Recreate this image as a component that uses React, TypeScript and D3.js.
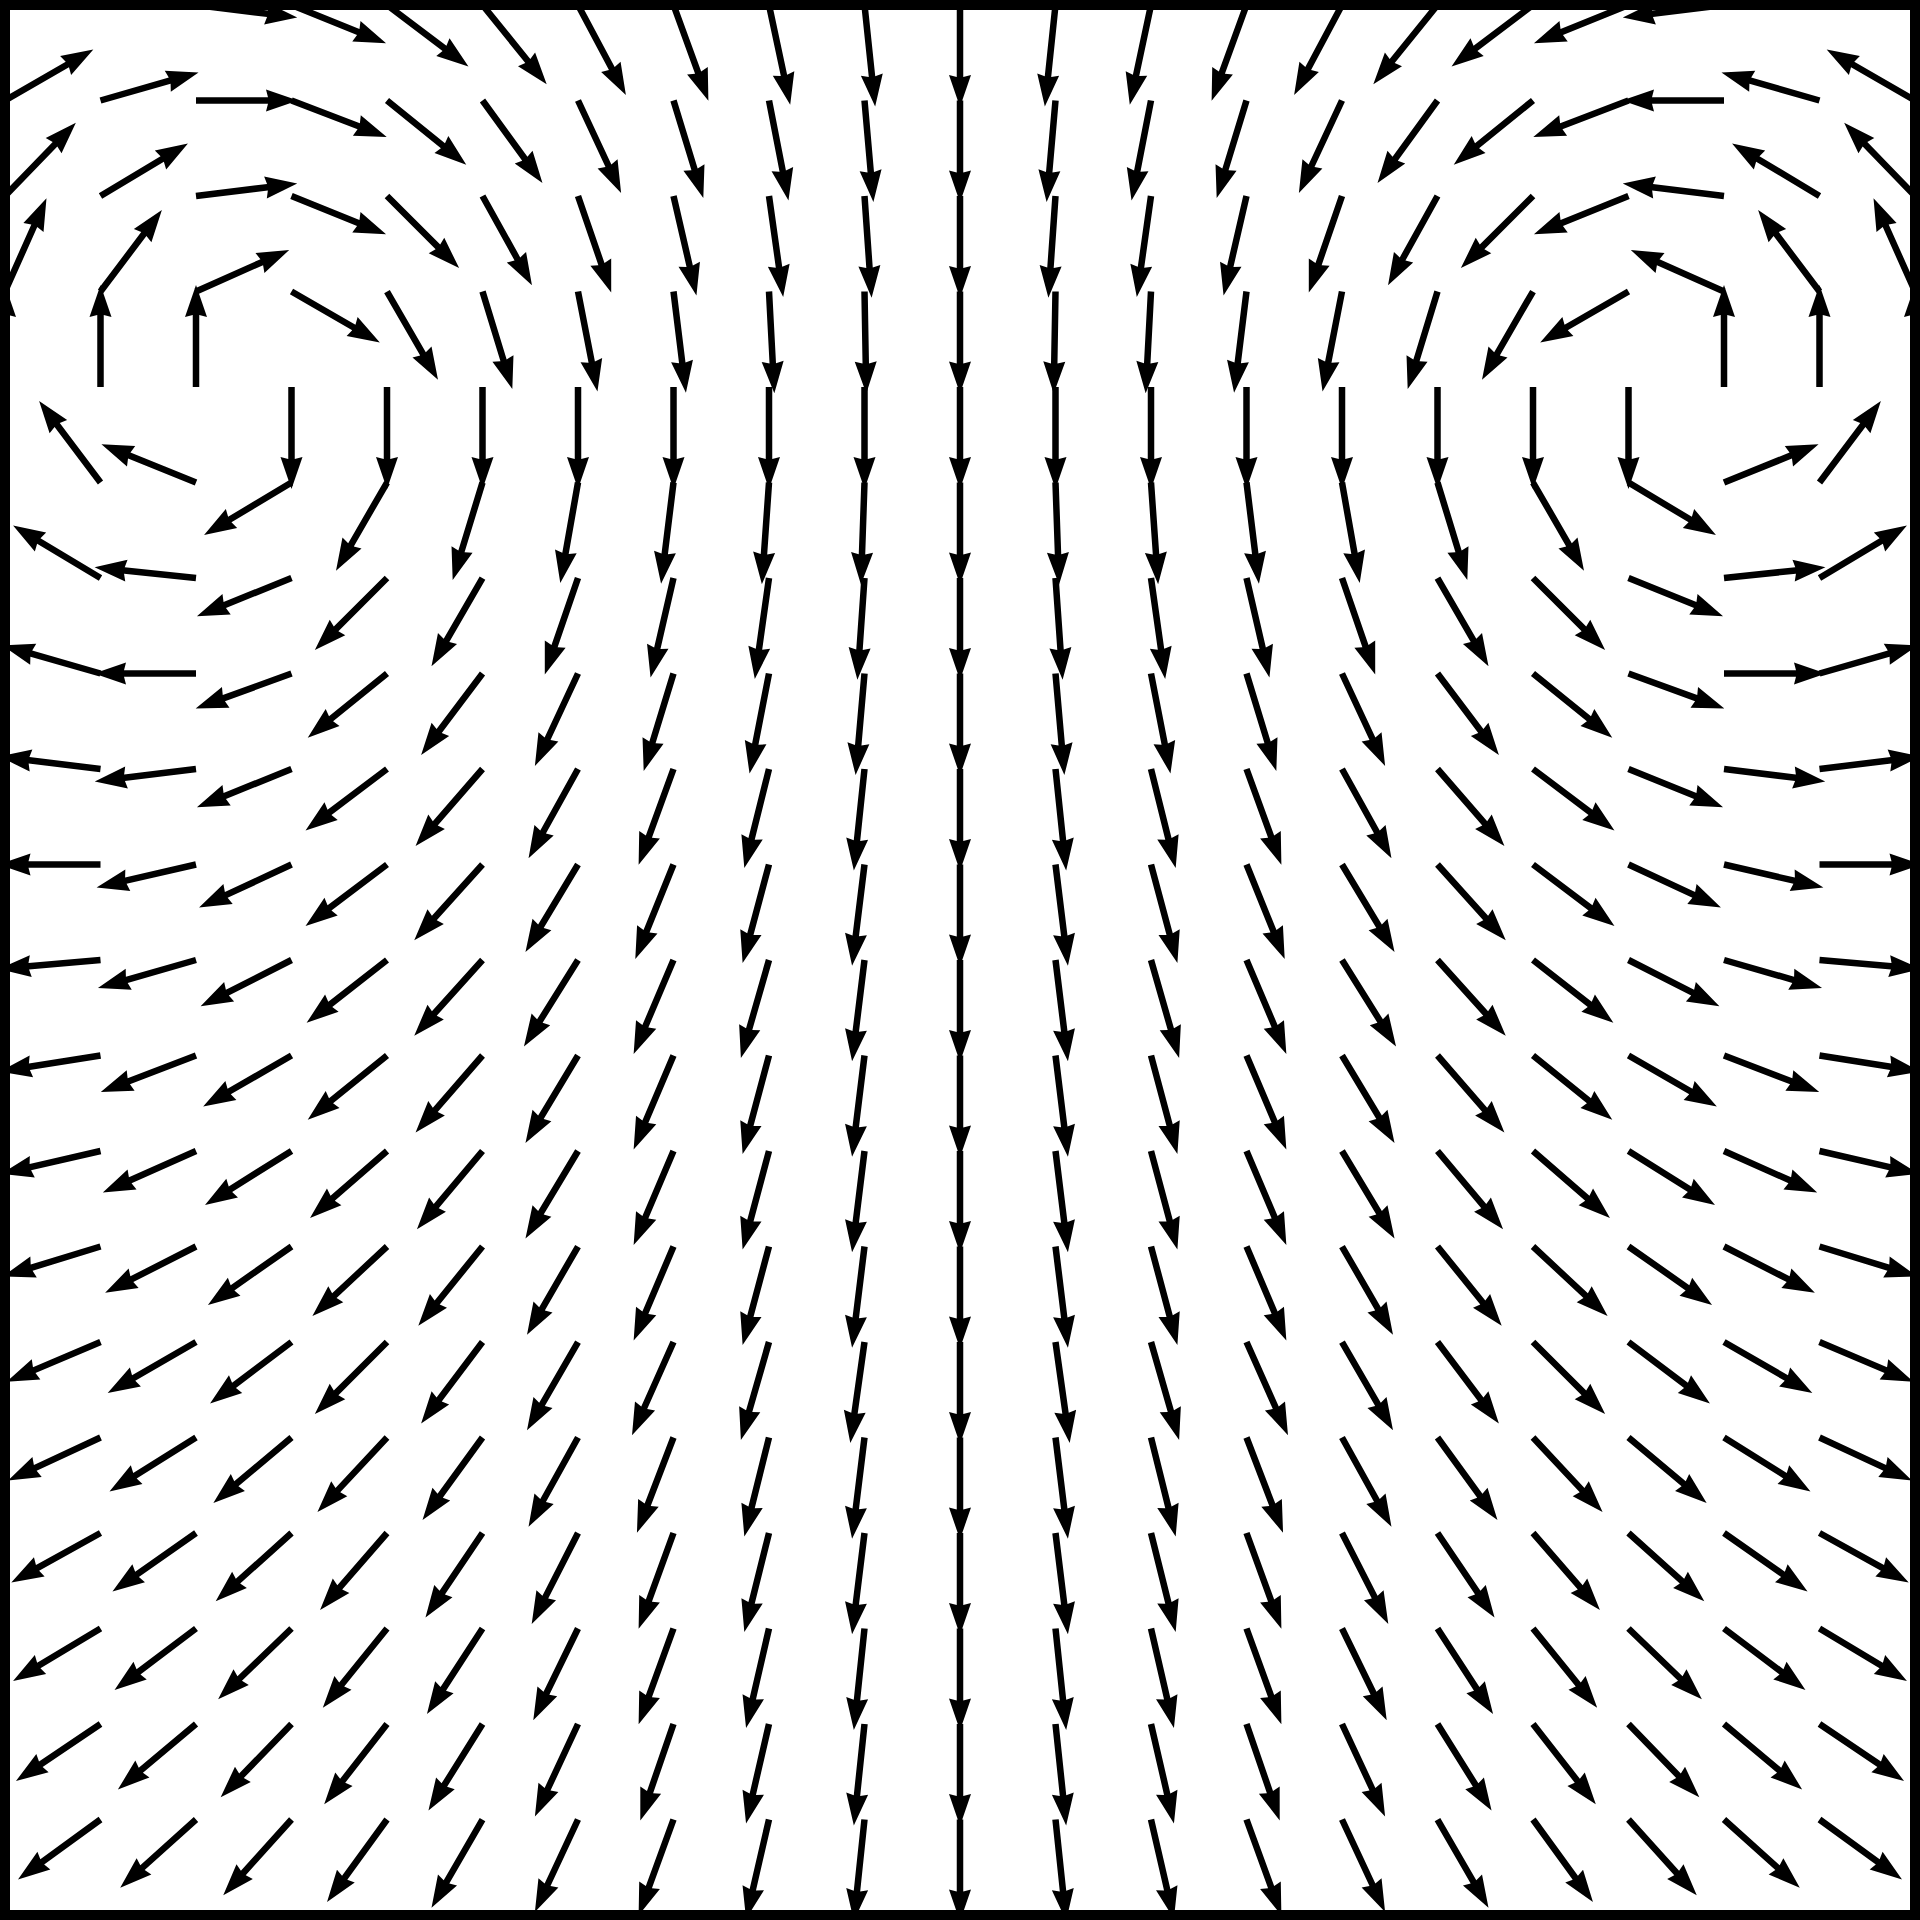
import React from 'react';
import * as d3 from 'd3';

// grid positions (column / row index of each arrow tail)
const gridCols = [0, 1, 2, 3, 4, 5, 6, 7, 8, 9, 10, 11, 12, 13, 14, 15, 16, 17, 18, 19, 20];
const gridRows = [0, 1, 2, 3, 4, 5, 6, 7, 8, 9, 10, 11, 12, 13, 14, 15, 16, 17, 18, 19, 20];

const arrowAngles = [
  [30, 8, -7, -22, -37, -51, -62, -70, -78, -84, -90, -96, -102, -110, -118, -129, -143, -158, -173, 172, 150],
  [30, 16, 0, -21, -39, -54, -65, -73, -79, -85, -90, -95, -101, -107, -115, -126, -141, -159, 180, 164, 150],
  [46, 31, 7, -22, -45, -61, -71, -77, -82, -86, -90, -94, -98, -103, -109, -119, -135, -158, 173, 149, 134],
  [66, 53, 24, -30, -60, -73, -79, -83, -87, -89, -90, -91, -93, -97, -101, -107, -120, -150, 156, 127, 114],
  [90, 90, 90, -90, -90, -90, -90, -90, -90, -90, -90, -90, -90, -90, -90, -90, -90, -90, 90, 90, 90],
  [125, 127, 158, -149, -120, -107, -100, -97, -94, -92, -90, -88, -86, -83, -80, -73, -60, -31, 22, 53, 55],
  [145, 149, 174, -158, -135, -120, -109, -103, -98, -94, -90, -86, -82, -77, -71, -60, -45, -22, 6, 31, 35],
  [160, 164, 180, -160, -141, -127, -115, -107, -101, -95, -90, -85, -79, -73, -65, -53, -39, -20, 0, 16, 20],
  [170, 173, -173, -158, -143, -131, -119, -110, -104, -96, -90, -84, -76, -70, -61, -49, -37, -22, -7, 7, 10],
  [178, 180, -167, -155, -143, -132, -121, -112, -105, -97, -90, -83, -75, -68, -59, -48, -37, -25, -13, 0, 2],
  [180, -175, -164, -153, -142, -132, -122, -113, -106, -97, -90, -83, -74, -67, -58, -48, -38, -27, -16, -5, 0],
  [-176, -171, -159, -150, -141, -131, -121, -113, -105, -97, -90, -83, -75, -67, -59, -49, -39, -30, -21, -9, -4],
  [-172, -167, -156, -148, -139, -130, -121, -113, -105, -97, -90, -83, -75, -67, -59, -50, -41, -32, -24, -13, -8],
  [-168, -163, -153, -145, -137, -129, -120, -113, -105, -97, -90, -83, -75, -67, -60, -51, -43, -35, -27, -17, -12],
  [-162, -157, -150, -143, -135, -127, -120, -114, -106, -98, -90, -82, -74, -66, -60, -53, -45, -37, -30, -23, -18],
  [-160, -155, -148, -140, -133, -126, -119, -111, -104, -97, -90, -83, -76, -69, -61, -54, -47, -40, -32, -25, -20],
  [-156, -151, -145, -138, -131, -124, -117, -110, -104, -97, -90, -83, -76, -70, -63, -56, -49, -42, -35, -29, -24],
  [-154, -149, -143, -136, -129, -123, -116, -110, -103, -96, -90, -84, -77, -70, -64, -57, -51, -44, -37, -31, -26],
  [-152, -146, -140, -134, -128, -122, -115, -109, -103, -96, -90, -84, -77, -71, -65, -58, -52, -46, -40, -34, -28],
  [-149, -144, -138, -132, -126, -120, -115, -110, -103, -96, -90, -84, -77, -70, -65, -60, -54, -48, -42, -36, -31],
  [-147, -142, -136, -130, -124, -119, -114, -109, -102, -96, -90, -84, -78, -71, -66, -61, -56, -50, -44, -38, -33],
];

const size = { width: 1920, height: 1920, inset: 5 };

export default function App() {
  const x = d3.scaleLinear()
    .domain([gridCols[0], gridCols[gridCols.length - 1]])
    .range([size.inset, size.width - size.inset]);
  const y = d3.scaleLinear()
    .domain([gridRows[0], gridRows[gridRows.length - 1]])
    .range([size.inset, size.height - size.inset]);

  // every arrow has the same length, a bit longer than the grid step
  const step = x(1) - x(0);
  const len = step * 1.068;
  const shaft = 6.5;
  const headW = 22;
  const headL = 32;
  const headAxis = 30;

  const arrowPath = d3.line()([
    [0, -shaft / 2],
    [len - headAxis, -shaft / 2],
    [len - headL, -headW / 2],
    [len, 0],
    [len - headL, headW / 2],
    [len - headAxis, shaft / 2],
    [0, shaft / 2],
  ]) + 'Z';

  const arrows = [];
  gridRows.forEach((r, i) => {
    gridCols.forEach((c, j) => {
      arrows.push({ key: `${i}-${j}`, cx: x(c), cy: y(r), angle: arrowAngles[i][j] });
    });
  });

  const x0 = x.range()[0];
  const y0 = y.range()[0];
  const w = x.range()[1] - x0;
  const h = y.range()[1] - y0;

  return (
    <svg
      width={size.width}
      height={size.height}
      style={{ position: 'absolute', left: 0, top: 0, background: '#fff' }}
    >
      <defs>
        <clipPath id="plot-clip">
          <rect x={x0} y={y0} width={w} height={h} />
        </clipPath>
      </defs>
      <g clipPath="url(#plot-clip)">
        {arrows.map(a => (
          <path
            key={a.key}
            d={arrowPath}
            fill="#000"
            transform={`translate(${a.cx},${a.cy}) rotate(${-a.angle})`}
          />
        ))}
      </g>
      <rect x={x0} y={y0} width={w} height={h} fill="none" stroke="#000" strokeWidth={10} />
    </svg>
  );
}
